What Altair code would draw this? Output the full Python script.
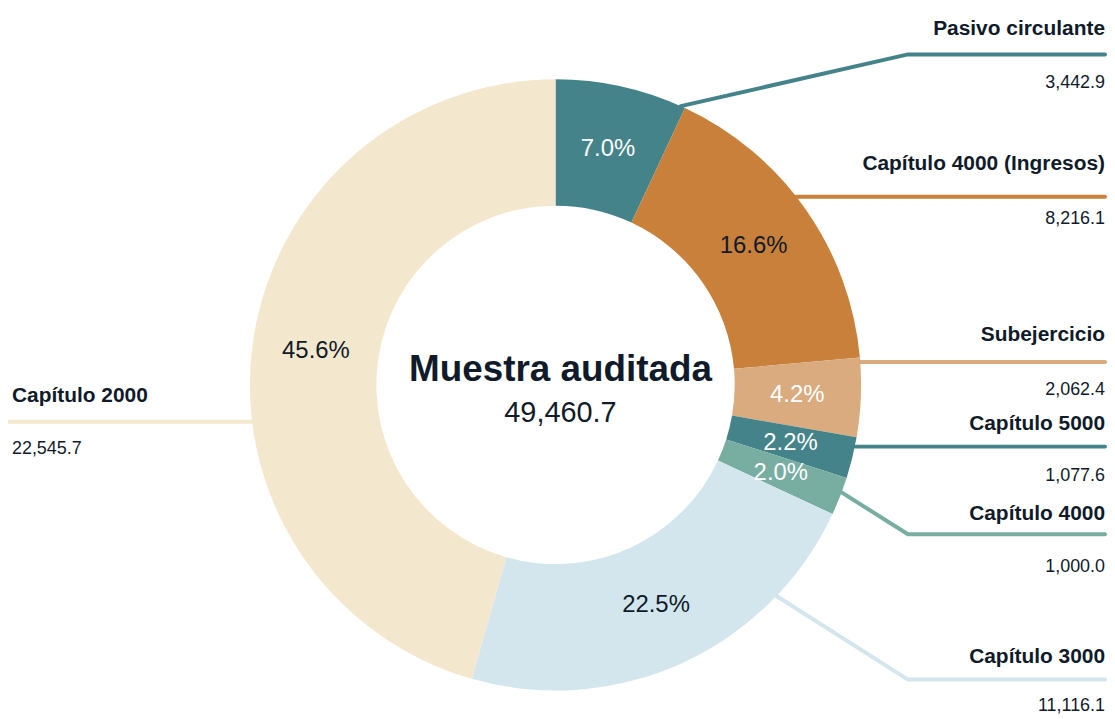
import math
import altair as alt
import pandas as pd

# ---------------- data ----------------
categories = ["Pasivo circulante", "Capítulo 4000 (Ingresos)", "Subejercicio",
              "Capítulo 5000", "Capítulo 4000", "Capítulo 3000", "Capítulo 2000"]
values = [3442.9, 8216.1, 2062.4, 1077.6, 1000.0, 11116.1, 22545.7]
colors = ["#45838A", "#C8803A", "#D9AB7F", "#45838A", "#78ADA1", "#D3E6EE", "#F3E7CE"]
pct_colors = ["#FFFFFF", "#0F1B2A", "#FFFFFF", "#FFFFFF", "#FFFFFF", "#0F1B2A", "#0F1B2A"]
center_title = "Muestra auditada"
center_total = 49460.7  # total as printed in the reference

# ---------------- layout ----------------
W, H = 1104, 712
CX, CY = 550, 377
R_OUT, R_IN, R_LBL = 307, 180, 243
FONT = "Liberation Sans"
DARK = "#0F1B2A"
# leader line geometry (chart pixels)
leader_angle = [24.2, None, None, None, 110.6, 133.7, None]
line_y = [45, 188, 354, 439, 527, 673, 414]
label_y = [20, 155, 327, 416, 507, 650, 388]
value_y = [74, 210, 382, 469, 560, 700, 441]
ELBOW_R, END_R, END_L, TEXT_R, TEXT_L = 904, 1102, 0, 1102, 4
side = ["R", "R", "R", "R", "R", "R", "L"]

total = sum(values)
df = pd.DataFrame({
    "cat": categories,
    "value": values,
    "ord": list(range(len(categories))),
    "color": colors,
    "tcolor": pct_colors,
    "pct": [f"{v / total * 100:.1f}%" for v in values],
    "vtxt": [f"{v:,.1f}" for v in values],
    "ly": label_y,
    "vy": value_y,
    "side": side,
})

rows = []
for i, c in enumerate(categories):
    ly = line_y[i]
    if leader_angle[i] is None:
        dy = ly - CY
        dx = math.sqrt(max(R_OUT ** 2 - dy ** 2, 0))
        sx = CX + dx if side[i] == "R" else CX - dx
        sy = ly
    else:
        a = math.radians(leader_angle[i])
        sx = CX + R_OUT * math.sin(a)
        sy = CY - R_OUT * math.cos(a)
    pts = [(sx, sy)]
    if side[i] == "R":
        pts += [(ELBOW_R, ly), (END_R, ly)]
    else:
        pts += [(END_L, ly)]
    for k, (x, y) in enumerate(pts):
        rows.append({"cat": c, "idx": k, "x": x, "y": y, "color": colors[i]})
lines_df = pd.DataFrame(rows)

xs = alt.Scale(domain=[0, W], range=[0, W], nice=False, zero=False)
ys = alt.Scale(domain=[0, H], range=[0, H], nice=False, zero=False)

base = alt.Chart(df)

arcs = base.mark_arc(innerRadius=R_IN, outerRadius=R_OUT).encode(
    theta=alt.Theta("value:Q", stack=True),
    color=alt.Color("color:N", scale=None),
    order=alt.Order("ord:Q"),
    x=alt.value(CX), y=alt.value(CY),
)

pct_text = base.mark_text(radius=R_LBL, fontSize=24, font=FONT).encode(
    theta=alt.Theta("value:Q", stack=True),
    order=alt.Order("ord:Q"),
    text="pct:N",
    color=alt.Color("tcolor:N", scale=None),
    x=alt.value(CX), y=alt.value(CY),
)

lines = alt.Chart(lines_df).mark_line(strokeWidth=4, strokeCap="round").encode(
    x=alt.X("x:Q", scale=xs, axis=None),
    y=alt.Y("y:Q", scale=ys, axis=None),
    detail="cat:N",
    order="idx:Q",
    color=alt.Color("color:N", scale=None),
)

lab_r = base.transform_filter("datum.side == 'R'").mark_text(
    align="right", baseline="middle", fontSize=21, fontWeight="bold", font=FONT, color=DARK
).encode(x=alt.value(TEXT_R), y=alt.Y("ly:Q", scale=ys, axis=None), text="cat:N")
val_r = base.transform_filter("datum.side == 'R'").mark_text(
    align="right", baseline="middle", fontSize=18, font=FONT, color=DARK
).encode(x=alt.value(TEXT_R), y=alt.Y("vy:Q", scale=ys, axis=None), text="vtxt:N")
lab_l = base.transform_filter("datum.side == 'L'").mark_text(
    align="left", baseline="middle", fontSize=21, fontWeight="bold", font=FONT, color=DARK
).encode(x=alt.value(TEXT_L), y=alt.Y("ly:Q", scale=ys, axis=None), text="cat:N")
val_l = base.transform_filter("datum.side == 'L'").mark_text(
    align="left", baseline="middle", fontSize=18, font=FONT, color=DARK
).encode(x=alt.value(TEXT_L), y=alt.Y("vy:Q", scale=ys, axis=None), text="vtxt:N")

center_df = pd.DataFrame({"t": [center_title], "v": [f"{center_total:,.1f}"]})
c1 = alt.Chart(center_df).mark_text(
    fontSize=37, fontWeight="bold", font=FONT, color=DARK, baseline="middle"
).encode(x=alt.value(555), y=alt.value(362), text="t:N")
c2 = alt.Chart(center_df).mark_text(
    fontSize=29, font=FONT, color=DARK, baseline="middle"
).encode(x=alt.value(555), y=alt.value(405), text="v:N")

chart = alt.layer(arcs, pct_text, lines, lab_r, val_r, lab_l, val_l, c1, c2).properties(
    width=W, height=H, padding=0, autosize=alt.AutoSizeParams(type="none")
).configure_view(stroke=None)

chart.save("out.html", embed_options={"renderer": "svg", "actions": False})
